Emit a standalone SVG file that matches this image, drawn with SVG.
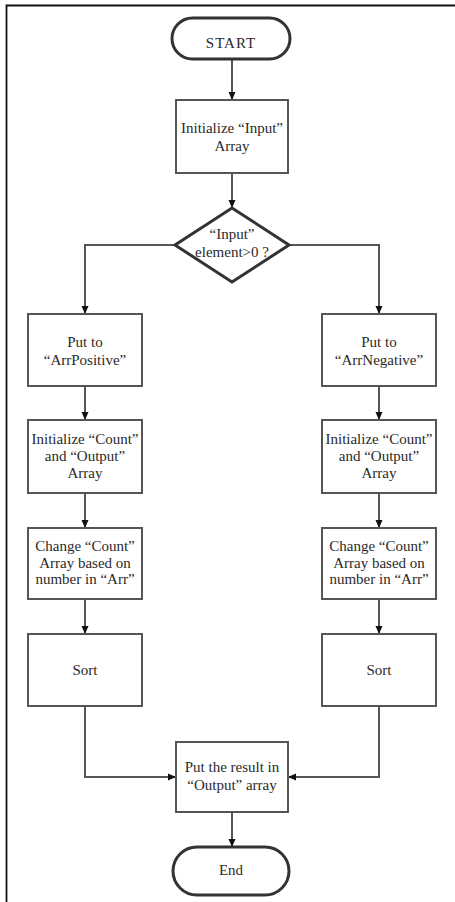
<svg xmlns="http://www.w3.org/2000/svg" width="455" height="902" viewBox="0 0 455 902">
<defs>
<marker id="arr" markerWidth="8" markerHeight="8" refX="8" refY="4" orient="auto" markerUnits="userSpaceOnUse">
<path d="M0,0.5 L8,4 L0,7.5 z" fill="#111"/>
</marker>
<style>
.box{fill:#fff;stroke:#555;stroke-width:2}
.term{fill:#fff;stroke:#333;stroke-width:3}
.dia{fill:#fff;stroke:#333;stroke-width:3}
.lbl{font-family:"Liberation Serif","Times New Roman",serif;font-size:15px;fill:#2a2a2a;text-anchor:middle}
.con{fill:none;stroke:#555;stroke-width:2;marker-end:url(#arr)}
.frame{fill:none;stroke:#111;stroke-width:1.8}
</style>
</defs>
<rect width="455" height="902" fill="#fff"/>
<path class="frame" d="M455 5.5 H6.5 V902"/>

<g id="connectors">
<path class="con" d="M232 59 V100"/>
<path class="con" d="M232 173 V208"/>
<path class="con" d="M175 245 H85 V314"/>
<path class="con" d="M289 245 H379 V314"/>
<path class="con" d="M85 386 V420"/>
<path class="con" d="M85 493 V528"/>
<path class="con" d="M85 599 V634"/>
<path class="con" d="M379 386 V420"/>
<path class="con" d="M379 493 V528"/>
<path class="con" d="M379 599 V634"/>
<path class="con" d="M85 706 V777 H176"/>
<path class="con" d="M379 706 V777 H288"/>
<path class="con" d="M232 812 V847"/>
</g>

<g id="start">
<rect class="term" x="172" y="18" width="118" height="41" rx="20.5"/>
<text class="lbl" x="231" y="48" style="letter-spacing:1px">START</text>
</g>

<g id="init-input">
<rect class="box" x="176" y="100" width="112" height="73"/>
<text class="lbl" x="232" y="133">Initialize “Input”</text>
<text class="lbl" x="232" y="151">Array</text>
</g>

<g id="decision">
<path class="dia" d="M232 208 L289 245 L232 282 L175 245 Z"/>
<text class="lbl" x="232" y="239">“Input”</text>
<text class="lbl" x="232" y="257">element&gt;0 ?</text>
</g>

<g id="put-positive">
<rect class="box" x="28" y="314" width="114" height="72"/>
<text class="lbl" x="85" y="347">Put to</text>
<text class="lbl" x="85" y="365">“ArrPositive”</text>
</g>

<g id="init-count-left">
<rect class="box" x="28" y="420" width="114" height="73"/>
<text class="lbl" x="85" y="444">Initialize “Count”</text>
<text class="lbl" x="85" y="461">and “Output”</text>
<text class="lbl" x="85" y="478">Array</text>
</g>

<g id="change-count-left">
<rect class="box" x="28" y="528" width="114" height="71"/>
<text class="lbl" x="85" y="551">Change “Count”</text>
<text class="lbl" x="85" y="567.5">Array based on</text>
<text class="lbl" x="85" y="584">number in “Arr”</text>
</g>

<g id="sort-left">
<rect class="box" x="28" y="634" width="114" height="72"/>
<text class="lbl" x="85" y="675">Sort</text>
</g>

<g id="put-negative">
<rect class="box" x="322" y="314" width="114" height="72"/>
<text class="lbl" x="379" y="347">Put to</text>
<text class="lbl" x="379" y="365">“ArrNegative”</text>
</g>

<g id="init-count-right">
<rect class="box" x="322" y="420" width="114" height="73"/>
<text class="lbl" x="379" y="444">Initialize “Count”</text>
<text class="lbl" x="379" y="461">and “Output”</text>
<text class="lbl" x="379" y="478">Array</text>
</g>

<g id="change-count-right">
<rect class="box" x="322" y="528" width="114" height="71"/>
<text class="lbl" x="379" y="551">Change “Count”</text>
<text class="lbl" x="379" y="567.5">Array based on</text>
<text class="lbl" x="379" y="584">number in “Arr”</text>
</g>

<g id="sort-right">
<rect class="box" x="322" y="634" width="114" height="72"/>
<text class="lbl" x="379" y="675">Sort</text>
</g>

<g id="put-result">
<rect class="box" x="176" y="742" width="112" height="70"/>
<text class="lbl" x="232" y="772">Put the result in</text>
<text class="lbl" x="232" y="790">“Output” array</text>
</g>

<g id="end">
<rect class="term" x="173" y="847" width="116" height="48" rx="24"/>
<text class="lbl" x="231" y="875">End</text>
</g>
</svg>
